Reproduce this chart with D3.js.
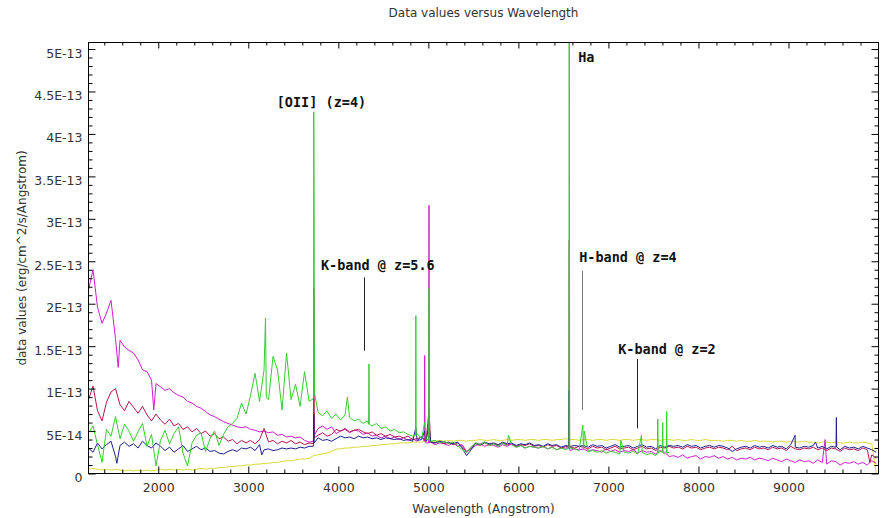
<!DOCTYPE html>
<meta charset="utf-8">
<style>
body { margin: 0; background: #fff; }
text { font-family: "DejaVu Sans", sans-serif; fill: #333; }
.tick text { font-size: 12.5px; fill: #333; }
.note { font-family: "DejaVu Sans Mono", monospace; font-weight: bold; font-size: 13.5px; fill: #111; }
.spec { fill: none; stroke-width: 1; stroke-linejoin: round; }
</style>
<svg width="885" height="518"></svg>
<script src="https://d3js.org/d3.v7.min.js"></script>
<script>
// wavelength grid the spectra were resampled on (Angstrom)
var wavelength = d3.range(1225, 10000, 50);

// flux, in units of 1e-14 erg/cm^2/s/Angstrom (one row = 500 A)
var unit = 1e-14;

var yellowFlux = [
  0.5, 0.6, 0.5, 0.4, 0.5, 0.4, 0.5, 0.4, 0.3, 0.4,
  0.3, 0.4, 0.3, 0.4, 0.3, 0.4, 0.5, 0.4, 0.5, 0.4,
  0.5, 0.4, 0.5, 0.4, 0.5, 0.6, 0.5, 0.6, 0.6, 0.7,
  0.7, 0.8, 0.8, 0.9, 0.9, 1.0, 1.0, 1.1, 1.1, 1.2,
  1.2, 1.3, 1.3, 1.4, 1.5, 1.5, 1.6, 1.7, 1.7, 1.8,
  2.1, 2.2, 2.3, 2.4, 2.6, 2.9, 2.9, 3.0, 3.0, 3.1,
  3.1, 3.2, 3.2, 3.3, 3.3, 3.4, 3.4, 3.5, 3.5, 3.6,
  3.6, 3.6, 3.7, 3.7, 3.7, 3.8, 3.8, 3.8, 3.9, 3.8,
  3.9, 3.8, 3.9, 3.9, 3.8, 3.9, 3.9, 4.0, 3.9, 3.9,
  4.0, 3.9, 3.9, 4.0, 3.9, 4.0, 4.0, 3.9, 4.0, 4.0,
  3.9, 4.0, 4.0, 3.9, 4.0, 4.0, 4.1, 4.0, 4.0, 3.9,
  4.0, 4.0, 3.9, 4.0, 4.0, 3.9, 4.0, 4.0, 3.9, 4.0,
  4.0, 3.9, 4.0, 4.0, 3.9, 4.0, 4.0, 3.9, 4.0, 4.0,
  3.9, 4.0, 3.9, 3.9, 4.0, 3.9, 3.9, 4.0, 3.9, 3.9,
  3.9, 3.8, 3.9, 3.9, 3.8, 3.9, 3.8, 3.8, 3.9, 3.8,
  3.8, 3.8, 3.7, 3.8, 3.8, 3.7, 3.8, 3.7, 3.7, 3.8,
  3.7, 3.7, 3.6, 3.7, 3.7, 3.6, 3.7, 3.6, 3.6, 3.7,
  3.6, 3.6, 3.7, 3.6, 3.5, 0.0
];

var magentaFlux = [
  21.6, 24.0, 19.6, 17.7, 18.9, 20.4, 15.9, 15.7, 14.9, 14.5,
  14.2, 13.4, 12.2, 12.0, 11.0, 10.6, 10.2, 9.8, 10.0, 9.5,
  9.2, 9.0, 8.5, 8.3, 7.9, 7.7, 7.3, 6.9, 6.7, 6.4,
  6.1, 5.9, 5.7, 5.5, 5.4, 5.5, 5.2, 5.1, 4.9, 5.0,
  4.8, 4.9, 4.5, 4.6, 4.3, 4.4, 4.2, 4.3, 3.9, 3.7,
  4.2, 5.3, 5.6, 5.2, 5.5, 4.7, 5.0, 5.2, 4.8, 5.1,
  5.0, 4.6, 4.8, 4.4, 4.5, 4.2, 4.4, 4.1, 4.3, 4.0,
  4.2, 3.9, 4.1, 3.8, 4.4, 3.6, 3.7, 3.4, 3.6, 3.5,
  3.3, 3.6, 3.2, 3.4, 2.6, 2.9, 3.3, 3.5, 3.2, 3.4,
  3.3, 3.1, 3.4, 3.2, 3.5, 3.1, 3.3, 3.0, 3.2, 3.1,
  3.0, 3.2, 2.9, 3.1, 2.8, 3.0, 3.0, 2.7, 2.9, 2.8,
  2.9, 2.6, 2.8, 2.7, 2.5, 2.9, 2.6, 2.8, 2.5, 2.7,
  2.6, 2.8, 2.4, 2.7, 2.5, 2.6, 2.3, 2.7, 2.5, 2.0,
  2.1, 1.9, 2.2, 1.8, 2.0, 2.1, 1.7, 2.0, 1.9, 2.1,
  1.8, 2.0, 1.7, 1.9, 1.6, 1.8, 1.7, 1.9, 1.6, 1.8,
  1.7, 1.5, 1.8, 1.6, 1.4, 1.7, 1.5, 1.3, 1.6, 1.4,
  1.5, 1.2, 1.6, 1.3, 1.1, 1.5, 1.4, 1.0, 1.3, 1.2,
  1.4, 1.1, 1.3, 1.0, 1.5, 1.2
];
var magentaLines = [
  [1555, 12.5], [1950, 7.5], [3722, 3.8], [3727, 7.1], [3732, 4.5],
  [4955, 3.8], [4959, 13.9], [4963, 3.8], [5003, 3.6], [5007, 31.6], [5011, 3.6],
  [6560, 3.0], [6563, 6.6], [6567, 3.0], [9407, 4.0]
];

var crimsonFlux = [
  8.7, 10.3, 7.4, 6.2, 8.4, 9.6, 10.0, 8.1, 7.4, 8.5,
  7.8, 7.1, 7.9, 6.9, 6.2, 7.0, 6.3, 5.8, 6.4, 5.6,
  5.9, 5.2, 5.5, 4.9, 5.3, 4.7, 5.0, 4.4, 4.7, 4.1,
  4.3, 3.8, 4.0, 3.5, 3.9, 3.6, 3.9, 3.5, 4.0, 5.3,
  3.7, 3.9, 3.5, 3.8, 3.6, 3.9, 3.5, 3.7, 3.4, 3.6,
  4.0, 4.5, 4.8, 4.4, 4.6, 5.2, 5.0, 5.3, 4.9, 5.1,
  5.2, 4.9, 4.7, 4.9, 4.5, 4.7, 4.4, 4.6, 4.3, 4.4,
  4.2, 4.4, 4.0, 4.1, 4.3, 3.9, 3.7, 3.6, 3.8, 3.5,
  3.7, 3.4, 3.6, 3.2, 2.5, 3.1, 3.5, 3.3, 3.6, 3.4,
  3.5, 3.3, 3.6, 3.4, 3.5, 3.2, 3.4, 3.3, 3.5, 3.2,
  3.3, 3.1, 3.4, 3.2, 3.3, 3.0, 3.2, 3.1, 3.0, 3.2,
  3.1, 2.9, 3.2, 3.0, 3.1, 2.8, 3.0, 3.2, 2.9, 3.0,
  3.1, 2.8, 3.0, 3.2, 2.9, 3.0, 2.7, 3.1, 3.0, 3.2,
  3.0, 3.1, 2.9, 3.2, 3.0, 3.1, 2.8, 3.0, 3.1, 2.9,
  3.1, 3.0, 2.8, 3.2, 2.7, 2.9, 3.0, 2.8, 3.1, 2.9,
  3.0, 2.8, 3.1, 2.9, 3.0, 2.7, 3.2, 2.9, 2.8, 3.0,
  2.9, 3.1, 2.8, 3.0, 2.7, 3.0, 2.9, 2.6, 3.0, 2.8,
  2.9, 2.7, 3.0, 2.8, 2.2, 1.8
];
var crimsonLines = [
  [3722, 3.5], [3728, 21.8], [3733, 4.2], [5008, 7.5],
  [6560, 3.1], [6565, 27.5], [6569, 3.1], [9905, 1.3]
];

var navyFlux = [
  3.0, 2.5, 3.6, 2.9, 3.4, 3.8, 2.0, 3.3, 3.7, 3.2,
  3.5, 3.0, 3.8, 3.3, 3.0, 3.6, 3.2, 2.7, 3.1, 2.5,
  2.9, 3.3, 2.6, 2.9, 3.2, 2.8, 3.0, 2.6, 2.7, 2.4,
  2.3, 2.6, 2.8, 2.6, 3.0, 2.9, 3.1, 2.7, 3.4, 2.8,
  2.9, 2.7, 2.8, 3.0, 2.9, 3.0, 2.9, 3.1, 3.0, 3.2,
  3.4, 4.2, 3.9, 4.0, 3.8, 4.1, 4.4, 4.2, 4.3, 4.1,
  4.4, 4.2, 4.3, 4.1, 4.2, 4.0, 4.2, 4.1, 4.0, 4.1,
  3.9, 4.0, 3.8, 3.9, 4.0, 3.8, 3.7, 3.6, 3.8, 3.7,
  3.6, 3.5, 3.7, 3.0, 2.1, 2.8, 3.6, 3.4, 3.7, 3.5,
  3.6, 3.4, 3.7, 3.5, 3.6, 3.3, 3.5, 3.4, 3.6, 3.3,
  3.4, 3.2, 3.5, 3.3, 3.4, 3.1, 3.3, 3.2, 3.3, 3.2,
  3.3, 3.1, 3.4, 3.2, 3.3, 3.0, 3.2, 3.4, 3.1, 3.2,
  3.3, 3.0, 3.2, 3.4, 3.1, 3.2, 2.9, 3.3, 3.1, 3.3,
  3.2, 3.3, 3.1, 3.4, 3.2, 3.3, 3.0, 3.2, 3.3, 3.1,
  3.3, 3.2, 3.0, 2.6, 2.9, 3.1, 3.2, 3.0, 3.3, 3.1,
  3.2, 3.0, 3.3, 3.1, 3.2, 2.9, 3.4, 3.1, 3.0, 3.2,
  3.1, 3.3, 3.0, 3.2, 2.9, 3.2, 3.1, 2.8, 3.2, 3.0,
  3.1, 2.9, 3.2, 3.0, 2.8, 2.5
];
var navyLines = [
  [1540, 1.2], [3150, 2.2], [3722, 3.2], [3727, 7.0], [3732, 3.6],
  [4861, 5.4], [4959, 5.0], [5007, 5.8],
  [6560, 3.2], [6563, 9.8], [6566, 3.2],
  [9074, 4.5], [9300, 3.7], [9528, 3.1], [9532, 6.6], [9536, 3.1]
];

// green stops near 7700 A
var greenFlux = [
  4.8, 5.6, 3.4, 1.3, 5.2, 4.4, 6.7, 4.1, 5.8, 5.0,
  3.8, 4.9, 5.9, 3.2, 4.6, 0.9, 3.9, 5.1, 3.5, 4.7,
  5.5, 2.4, 0.9, 3.6, 4.5, 4.8, 2.6, 4.1, 5.0, 3.3,
  4.6, 5.5, 5.9, 6.5, 8.3, 7.0, 9.2, 11.8, 8.5, 12.2,
  8.7, 13.8, 12.2, 7.5, 14.2, 8.7, 10.5, 7.9, 12.0, 8.5,
  9.0, 7.2, 6.8, 7.4, 6.5, 7.0, 6.3, 6.9, 6.6, 6.2,
  6.4, 5.9, 6.2, 5.6, 5.9, 5.3, 5.5, 5.0, 5.2, 4.8,
  4.9, 4.6, 4.4, 4.7, 4.1, 4.0, 3.8, 3.9, 3.6, 3.8,
  3.5, 3.7, 3.3, 2.8, 2.5, 3.1, 3.6, 3.4, 3.7, 3.3,
  3.5, 3.2, 3.6, 3.3, 3.4, 3.1, 3.3, 3.0, 3.2, 3.1,
  3.0, 3.2, 2.9, 3.1, 2.8, 3.0, 2.8, 3.0, 2.9, 2.7,
  2.8, 2.6, 2.7, 2.5, 2.7, 2.4, 2.6, 2.5, 2.3, 2.5,
  2.4, 2.6, 2.3, 2.5, 2.2, 2.4, 2.1, 2.6, 2.3, 2.5
];
var greenLines = [
  [3191, 18.3], [3200, 9.0],
  [3720, 8.8], [3727, 42.6], [3731, 32.0], [3735, 9.5],
  [3875, 7.3], [4101, 9.0], [4336, 5.8], [4340, 12.9], [4345, 5.8],
  [4857, 4.5], [4861, 18.6], [4865, 4.5], [4959, 6.0],
  [5003, 4.0], [5007, 21.8], [5011, 3.9], [5890, 4.5],
  [6561, 3.0], [6564, 62.0], [6567, 39.5], [6570, 3.0],
  [6716, 5.7], [6722, 3.0], [6731, 5.0], [7138, 3.9], [7367, 4.5],
  [7545, 2.4], [7548, 6.4], [7552, 2.4], [7600, 2.5], [7603, 6.0], [7607, 2.4],
  [7644, 2.5], [7647, 7.3], [7651, 2.4]
];

// axis ticks
var xTickValues = [2000, 3000, 4000, 5000, 6000, 7000, 8000, 9000];
var yTickValues = [0, 5e-14, 1e-13, 1.5e-13, 2e-13, 2.5e-13, 3e-13, 3.5e-13, 4e-13, 4.5e-13, 5e-13];
var yTickLabels = ["0", "5E-14", "1E-13", "1.5E-13", "2E-13", "2.5E-13", "3E-13", "3.5E-13", "4E-13", "4.5E-13", "5E-13"];

// annotations (anchored in data space: wavelength, flux in 1e-14)
var noteText = ["[OII] (z=4)", "Ha", "K-band @ z=5.6", "H-band @ z=4", "K-band @ z=2"];
var noteWave = [3316, 6664, 3807, 6675, 7108];
var noteFlux = [43.15, 48.5, 23.96, 24.96, 14.07];
var markWave = [4290, 6702, 7323];
var markTop = [23.1, 23.88, 13.48];
var markBottom = [14.46, 7.48, 5.32];

var svg = d3.select("svg");
var plotLeft = 88.5, plotRight = 878.5, plotTop = 42.5, plotBottom = 473.5;

var x = d3.scaleLinear().domain([1225, 10000]).range([plotLeft, plotRight]);
var y = d3.scaleLinear().domain([0, 5.077e-13]).range([plotBottom, plotTop]);

var spectra = [
  {flux: yellowFlux, lines: [], color: "#d9d93a"},
  {flux: magentaFlux, lines: magentaLines, color: "#cc1fcc"},
  {flux: crimsonFlux, lines: crimsonLines, color: "#b3164f"},
  {flux: navyFlux, lines: navyLines, color: "#20208e"},
  {flux: greenFlux, lines: greenLines, color: "#36cc30"}
];

svg.append("defs").append("clipPath").attr("id", "plot")
  .append("rect").attr("x", plotLeft).attr("y", plotTop)
  .attr("width", plotRight - plotLeft).attr("height", plotBottom - plotTop);

var line = d3.line()
  .x(function(d) { return x(d[0]); })
  .y(function(d) { return y(d[1] * unit); });

var plot = svg.append("g").attr("clip-path", "url(#plot)");
spectra.forEach(function(s) {
  var pts = s.flux.map(function(v, i) { return [wavelength[i], v]; })
    .concat(s.lines)
    .sort(function(a, b) { return a[0] - b[0]; });
  plot.append("path").attr("class", "spec")
    .attr("d", line(pts))
    .style("stroke", s.color);
});

// frame and ticks (all ticks point inward)
var minorX = d3.range(1400, 10000, 200).filter(function(v) { return v % 1000 != 0; });
var minorY = d3.range(1, 51).filter(function(v) { return v % 5 != 0; }).map(function(v) { return v * 1e-14; });

svg.append("g").attr("transform", "translate(0," + plotBottom + ")")
  .call(d3.axisBottom(x).tickValues(xTickValues).tickSizeInner(-7).tickSizeOuter(0).tickPadding(9.3).tickFormat(d3.format("d")));
svg.append("g").attr("transform", "translate(0," + plotBottom + ")")
  .call(d3.axisBottom(x).tickValues(minorX).tickSizeInner(-4).tickSizeOuter(0).tickFormat(""));

svg.append("g").attr("transform", "translate(0," + plotTop + ")")
  .call(d3.axisTop(x).tickValues(xTickValues).tickSizeInner(-6).tickSizeOuter(0).tickFormat(""));
svg.append("g").attr("transform", "translate(0," + plotTop + ")")
  .call(d3.axisTop(x).tickValues(minorX).tickSizeInner(-3).tickSizeOuter(0).tickFormat(""));

svg.append("g").attr("transform", "translate(" + plotLeft + ",0)")
  .call(d3.axisLeft(y).tickValues(yTickValues).tickSizeInner(-7).tickSizeOuter(0).tickPadding(6)
    .tickFormat(function(d, i) { return yTickLabels[i]; }))
  .selectAll(".tick text").attr("dy", "0.64em");
svg.append("g").attr("transform", "translate(" + plotLeft + ",0)")
  .call(d3.axisLeft(y).tickValues(minorY).tickSizeInner(-4).tickSizeOuter(0).tickFormat(""));

svg.append("g").attr("transform", "translate(" + plotRight + ",0)")
  .call(d3.axisRight(y).tickValues(yTickValues).tickSizeInner(-7).tickSizeOuter(0).tickFormat(""));
svg.append("g").attr("transform", "translate(" + plotRight + ",0)")
  .call(d3.axisRight(y).tickValues(minorY).tickSizeInner(-4).tickSizeOuter(0).tickFormat(""));

svg.selectAll(".domain").remove();
svg.append("rect").attr("x", plotLeft).attr("y", plotTop)
  .attr("width", plotRight - plotLeft).attr("height", plotBottom - plotTop)
  .attr("fill", "none").attr("stroke", "#000");

// titles
svg.append("text").attr("x", (plotLeft + plotRight) / 2).attr("y", 17)
  .attr("text-anchor", "middle").style("font-size", "12px")
  .text("Data values versus Wavelength");
svg.append("text").attr("x", (plotLeft + plotRight) / 2).attr("y", 513)
  .attr("text-anchor", "middle").style("font-size", "12px")
  .text("Wavelength (Angstrom)");
svg.append("text")
  .attr("transform", "translate(26," + (plotTop + plotBottom) / 2 + ") rotate(-90)")
  .attr("text-anchor", "middle").style("font-size", "12px")
  .text("data values (erg/cm^2/s/Angstrom)");

// annotations
noteText.forEach(function(t, i) {
  svg.append("text").attr("class", "note")
    .attr("x", x(noteWave[i])).attr("y", y(noteFlux[i] * unit))
    .text(t);
});
markWave.forEach(function(w, i) {
  svg.append("line")
    .attr("x1", Math.round(x(w)) + 0.5).attr("x2", Math.round(x(w)) + 0.5)
    .attr("y1", y(markTop[i] * unit)).attr("y2", y(markBottom[i] * unit))
    .attr("stroke", i == 1 ? "#777" : "#222");
});
</script>
